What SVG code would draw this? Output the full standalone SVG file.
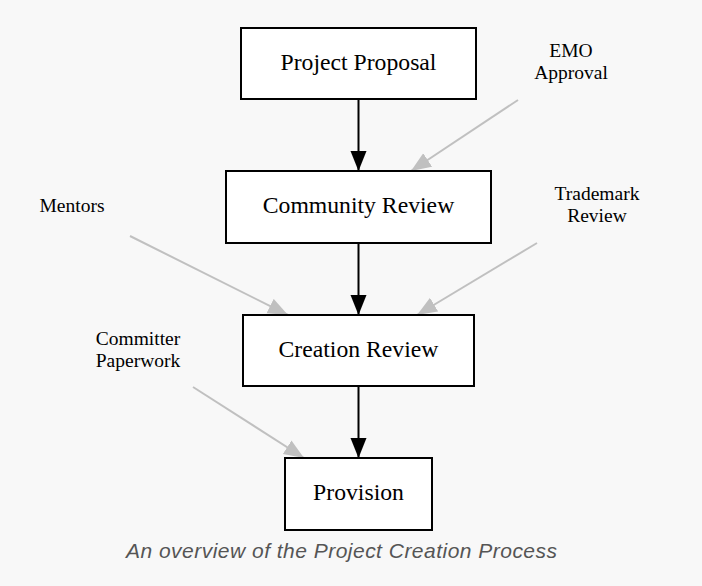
<svg xmlns="http://www.w3.org/2000/svg" width="702" height="586" viewBox="0 0 702 586">
<style>
.node rect{fill:#ffffff;stroke:#000000;stroke-width:2}
.node text{font-family:"Liberation Serif",serif;font-size:23.7px;fill:#000000;text-anchor:middle}
.lbl{font-family:"Liberation Serif",serif;font-size:19.5px;fill:#000000;text-anchor:middle}
.main{stroke:#000000;stroke-width:2;fill:none}
.side{stroke:#c0c0c0;stroke-width:2;fill:none}
.cap{font-family:"Liberation Sans",sans-serif;font-style:italic;font-size:21px;fill:#555555;text-anchor:middle}
</style>
<defs>
<marker id="ah" markerUnits="userSpaceOnUse" markerWidth="22" markerHeight="18" refX="20" refY="8" orient="auto" viewBox="0 0 22 18">
<path d="M0,0 L20,8 L0,16 Z" fill="#000000"/>
</marker>
<marker id="ahg" markerUnits="userSpaceOnUse" markerWidth="22" markerHeight="18" refX="20" refY="8" orient="auto" viewBox="0 0 22 18">
<path d="M0,0 L20,8 L0,16 Z" fill="#c0c0c0"/>
</marker>
</defs>
<rect x="0" y="0" width="702" height="586" fill="#f8f8f8"/>
<g id="connectors">
<line class="main" x1="358.5" y1="99" x2="358.5" y2="171" marker-end="url(#ah)"/>
<line class="main" x1="358.5" y1="243" x2="358.5" y2="315" marker-end="url(#ah)"/>
<line class="main" x1="358.5" y1="386" x2="358.5" y2="458" marker-end="url(#ah)"/>
<line class="side" x1="518" y1="100" x2="411" y2="171" marker-end="url(#ahg)"/>
<line class="side" x1="130" y1="236" x2="288" y2="315" marker-end="url(#ahg)"/>
<line class="side" x1="537" y1="243" x2="417" y2="315" marker-end="url(#ahg)"/>
<line class="side" x1="193" y1="387" x2="304" y2="458" marker-end="url(#ahg)"/>
</g>
<g id="project-proposal" class="node"><rect x="241" y="28" width="235" height="71"/><text x="358.5" y="70">Project Proposal</text></g>
<g id="community-review" class="node"><rect x="226" y="171" width="265" height="72"/><text x="358.5" y="213">Community Review</text></g>
<g id="creation-review" class="node"><rect x="243" y="315" width="231" height="71"/><text x="358.5" y="357">Creation Review</text></g>
<g id="provision" class="node"><rect x="285" y="458" width="147" height="72"/><text x="358.5" y="500">Provision</text></g>
<g id="emo-approval"><text class="lbl" x="571" y="57">EMO</text><text class="lbl" x="571" y="79">Approval</text></g>
<g id="mentors"><text class="lbl" x="72" y="212">Mentors</text></g>
<g id="trademark-review"><text class="lbl" x="597" y="200">Trademark</text><text class="lbl" x="597" y="222">Review</text></g>
<g id="committer-paperwork"><text class="lbl" x="138" y="345">Committer</text><text class="lbl" x="138" y="367">Paperwork</text></g>
<text class="cap" x="341.5" y="558" textLength="431" lengthAdjust="spacing">An overview of the Project Creation Process</text>
</svg>
